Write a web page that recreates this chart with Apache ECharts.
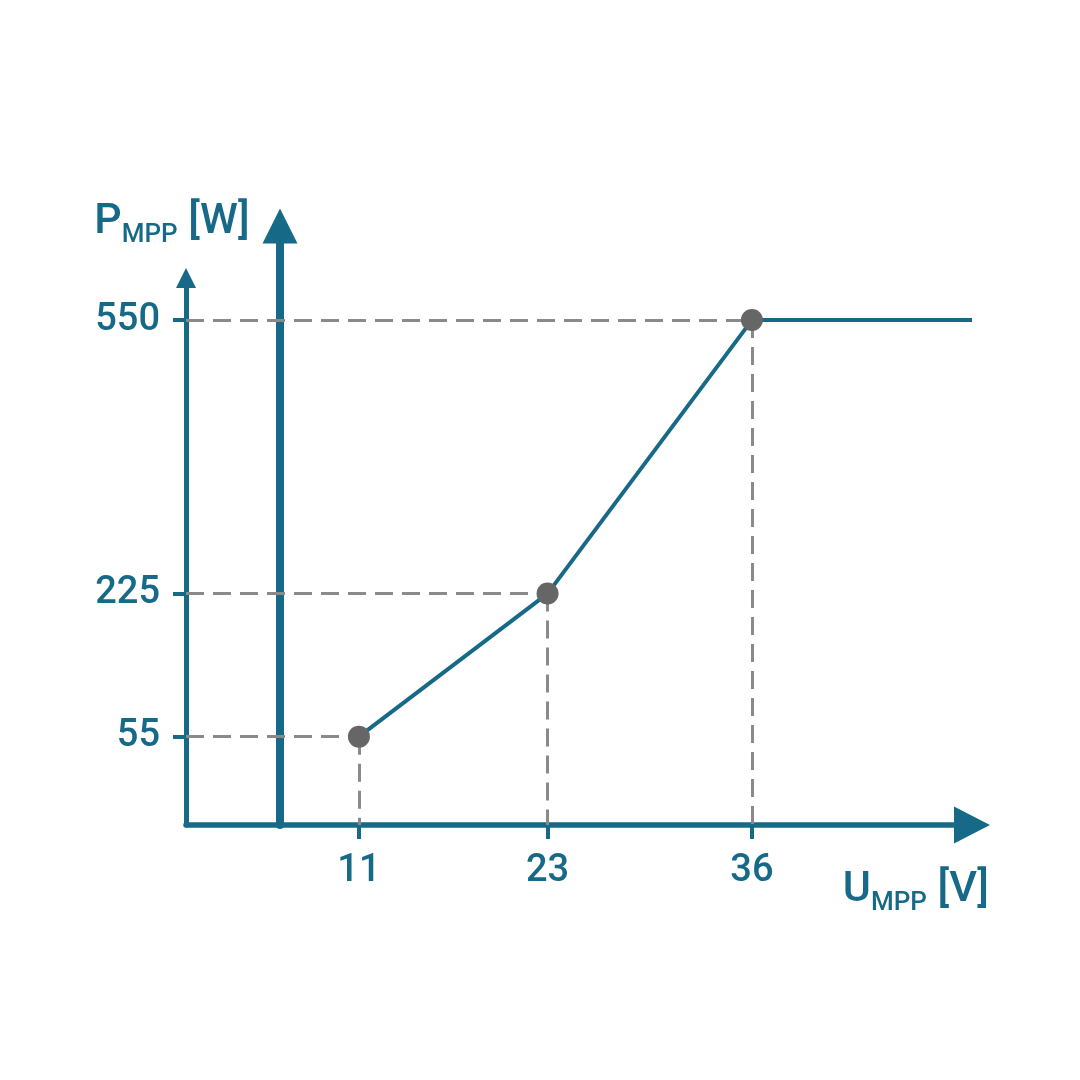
<!DOCTYPE html>
<html>
<head>
<meta charset="utf-8">
<title>P_MPP over U_MPP</title>
<script src="https://cdn.jsdelivr.net/npm/echarts@6/dist/echarts.min.js"></script>
<style>
	html, body { margin: 0; padding: 0; background: #fff; }
	#chart { width: 1080px; height: 1080px; }
</style>
</head>
<body>
<div id="chart"></div>
<script>
// values
var uValues = [11, 23, 36];       // U_MPP [V]
var pValues = [55, 225, 550];     // P_MPP [W]
var uLineEnd = 50;                // flat part of the line ends here
var xTicks = [11, 23, 36];
var yTicks = [55, 225, 550];

var TEAL = '#176a87';
var GREY_DOT = '#666666';
var GREY_DASH = '#8a8a8a';
var FONT = 'Roboto';
var WEIGHT = 500;

var xMin = 0, xMax = 50;
var yMin = -50, yMax = 600;

function init() {
	var chart = echarts.init(document.getElementById('chart'));

	// points of the curve, the last one only closes the flat part
	var lineData = [];
	for (var i = 0; i < uValues.length; i++) {
		lineData.push([uValues[i], pValues[i]]);
	}
	lineData.push({ value: [uLineEnd, pValues[pValues.length - 1]], symbol: 'none' });

	// dashed guide lines from the axes to each point
	var guides = [];
	for (var j = 0; j < uValues.length; j++) {
		guides.push([{ coord: [xMin, pValues[j]] }, { coord: [uValues[j], pValues[j]] }]);
		guides.push([{ coord: [uValues[j], pValues[j]] }, { coord: [uValues[j], yMin] }]);
	}

	var nameRich = {
		a: { fontFamily: FONT, fontWeight: WEIGHT, fontSize: 43, color: TEAL },
		b: { fontFamily: FONT, fontWeight: WEIGHT, fontSize: 26, color: TEAL, padding: [26, 0, 0, 0] }
	};

	var option = {
		animation: false,
		backgroundColor: '#fff',
		grid: [
			{ left: 186, right: 108, top: 278, bottom: 255 },
			// second grid only carries the thick vertical axis
			{ left: 280, width: 10, top: 226, bottom: 255 }
		],
		xAxis: [{
			gridIndex: 0,
			type: 'value',
			min: xMin,
			max: xMax,
			name: '{a|U}{b|MPP}{a| [V]}',
			nameLocation: 'end',
			nameGap: 17,
			nameTextStyle: {
				align: 'right',
				verticalAlign: 'top',
				padding: [39, 0, 0, 0],
				rich: nameRich
			},
			axisLine: {
				onZero: false,
				lineStyle: { color: TEAL, width: 5.5 },
				symbol: ['none', 'triangle'],
				symbolSize: [37, 36]
			},
			axisTick: {
				show: true,
				customValues: xTicks,
				length: 14,
				lineStyle: { color: TEAL, width: 4 }
			},
			axisLabel: {
				customValues: xTicks,
				margin: 27,
				fontFamily: FONT,
				fontWeight: WEIGHT,
				fontSize: 38,
				color: TEAL
			},
			splitLine: { show: false }
		}, {
			gridIndex: 1,
			type: 'value',
			show: false
		}],
		yAxis: [{
			gridIndex: 0,
			type: 'value',
			min: yMin,
			max: yMax,
			name: '{a|P}{b|MPP}{a| [W]}',
			nameLocation: 'end',
			nameGap: 30,
			nameTextStyle: {
				align: 'center',
				padding: [0, 28, 0, 0],
				rich: nameRich
			},
			axisLine: {
				show: true,
				onZero: false,
				lineStyle: { color: TEAL, width: 5 },
				symbol: ['none', 'triangle'],
				symbolSize: [20, 20]
			},
			axisTick: {
				show: true,
				customValues: yTicks,
				length: 13,
				lineStyle: { color: TEAL, width: 4 }
			},
			axisLabel: {
				customValues: yTicks,
				margin: 26,
				fontFamily: FONT,
				fontWeight: WEIGHT,
				fontSize: 38,
				color: TEAL
			},
			splitLine: { show: false }
		}, {
			gridIndex: 1,
			type: 'value',
			min: 0,
			max: 1,
			axisLine: {
				show: true,
				onZero: false,
				lineStyle: { color: TEAL, width: 8 },
				symbol: ['none', 'triangle'],
				symbolSize: [35, 35]
			},
			axisTick: { show: false },
			axisLabel: { show: false },
			splitLine: { show: false }
		}],
		series: [{
			type: 'line',
			xAxisIndex: 0,
			yAxisIndex: 0,
			data: lineData,
			symbol: 'circle',
			symbolSize: 22,
			z: 5,
			lineStyle: { color: TEAL, width: 4 },
			itemStyle: { color: GREY_DOT },
			markLine: {
				silent: true,
				symbol: ['none', 'none'],
				label: { show: false },
				lineStyle: { color: GREY_DASH, width: 3, type: [18, 9] },
				data: guides
			}
		}]
	};
	chart.setOption(option);
}
init();
</script>
</body>
</html>
